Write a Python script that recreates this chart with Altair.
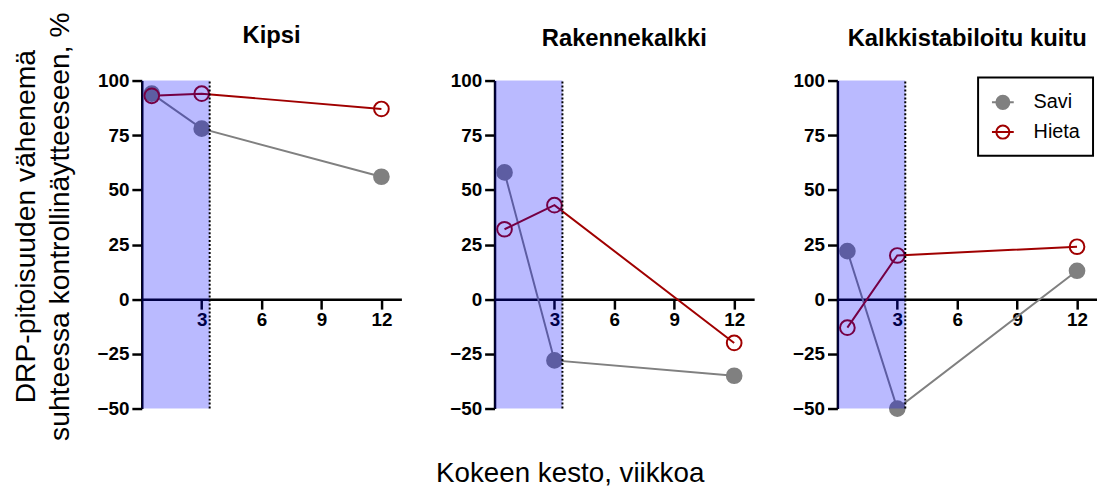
import altair as alt
import pandas as pd

FONT = "Liberation Sans"

# ---- data ----
weeks = [0.5, 3, 12]
panel_names = ["Kipsi", "Rakennekalkki", "Kalkkistabiloitu kuitu"]
savi_kipsi = [94, 78, 56]
hieta_kipsi = [93, 94, 87]
savi_rakenne = [58, -28, -35]
hieta_rakenne = [32, 43, -20]
savi_kuitu = [22, -50, 13]
hieta_kuitu = [-13, 20, 24]
series_names = ["Savi", "Hieta"]
series_stroke = ["#808080", "#a00000"]
series_fill = ["#808080", "transparent"]
shade_start, shade_end = 0, 3.4
x_domain = [0, 13]
y_domain = [-50, 100]
x_ticks = [3, 6, 9, 12]
y_ticks = [-50, -25, 0, 25, 50, 75, 100]
y_title = ["DRP-pitoisuuden vähenemä", "suhteessa kontrollinäytteeseen, %"]
x_title = "Kokeen kesto, viikkoa"

PW, H = 262, 331          # plotted width / height of each panel
x_axis_offset = -H * (0 - y_domain[0]) / (y_domain[1] - y_domain[0])

LEGEND_PATH = "M-1,0L1,0M-0.6,0A0.6,0.6,0,1,1,0.6,0A0.6,0.6,0,1,1,-0.6,0"

LEG = alt.Legend(title=None, orient="none", legendX=844, legendY=-3,
                 symbolType=LEGEND_PATH, symbolSize=484, symbolStrokeWidth=2,
                 labelFontSize=20, labelFont=FONT, labelColor="black",
                 strokeColor="black", fillColor="white", padding=13,
                 rowPadding=7, labelOffset=19)


def panel(name, savi, hieta, show_ytitle, extra_w, title_dx, title_offset):
    df = pd.DataFrame({
        "week": weeks * 2,
        "value": savi + hieta,
        "series": ["Savi"] * len(weeks) + ["Hieta"] * len(weeks),
    })
    shade = pd.DataFrame({"x0": [shade_start], "x1": [shade_end],
                          "y0": [y_domain[0]], "y1": [y_domain[1]]})
    xs = alt.Scale(domain=x_domain, nice=False, zero=False, range=[0, PW])
    ys = alt.Scale(domain=y_domain, nice=False, zero=False)
    xa = alt.Axis(values=x_ticks, offset=x_axis_offset, title=None, grid=False,
                  tickSize=10, tickWidth=2.5, domainWidth=2.5, domainColor="black",
                  tickColor="black", labelFontSize=19, labelFontWeight="bold",
                  labelFont=FONT, labelColor="black", labelPadding=2, labelFlush=False)
    yargs = dict(values=y_ticks, grid=False, tickSize=10, tickWidth=2.5,
                 domainWidth=2.5, domainColor="black", tickColor="black",
                 labelFontSize=19, labelFontWeight="bold", labelFont=FONT,
                 labelColor="black", labelPadding=3)
    if show_ytitle:
        ya = alt.Axis(title=y_title, titleFontSize=28.5, titleFont=FONT,
                      titleFontWeight="normal", titleColor="black",
                      titleX=-108, titleY=147, titleBaseline="alphabetic",
                      titleAngle=270, titleAlign="center", titleLineHeight=34,
                      **yargs)
    else:
        ya = alt.Axis(title=None, **yargs)

    line = alt.Chart(df).mark_line(strokeWidth=2).encode(
        x=alt.X("week:Q", scale=xs, axis=xa),
        y=alt.Y("value:Q", scale=ys, axis=ya),
        color=alt.Color("series:N", scale=alt.Scale(domain=series_names, range=series_stroke), legend=None),
    )
    pts = alt.Chart(df).mark_point(size=220, strokeWidth=2, opacity=1).encode(
        x=alt.X("week:Q", scale=xs, axis=xa),
        y=alt.Y("value:Q", scale=ys, axis=ya),
        stroke=alt.Stroke("series:N", scale=alt.Scale(domain=series_names, range=series_stroke), legend=LEG),
        fill=alt.Fill("series:N", scale=alt.Scale(domain=series_names, range=series_fill), legend=LEG),
    )
    rect = alt.Chart(shade).mark_rect(color="#0000ff", opacity=0.27).encode(
        x=alt.X("x0:Q", scale=xs, axis=xa),
        x2="x1:Q",
        y=alt.Y("y0:Q", scale=ys, axis=ya),
        y2="y1:Q",
    )
    rule = alt.Chart(shade).mark_rule(color="black", strokeWidth=2, strokeDash=[2, 2]).encode(
        x=alt.X("x1:Q", scale=xs, axis=xa),
        y=alt.Y("y0:Q", scale=ys, axis=ya),
        y2="y1:Q",
    )
    return alt.layer(line, pts, rect, rule).properties(
        width=PW + extra_w, height=H,
        title=alt.TitleParams(name, fontSize=24, fontWeight="bold", font=FONT,
                              color="black", offset=title_offset, frame="group", dx=title_dx,
                              baseline="alphabetic", anchor="middle"),
    )


p1 = panel(panel_names[0], savi_kipsi, hieta_kipsi, True, 10, -5, -55)
p2 = panel(panel_names[1], savi_rakenne, hieta_rakenne, False, 0, 0, 2)
p3 = panel(panel_names[2], savi_kuitu, hieta_kuitu, False, 0, 0, 2)

chart = alt.hconcat(p1, p2, p3, spacing=84, bounds="flush").resolve_scale(color="independent").properties(
    title=alt.TitleParams(x_title, orient="bottom", anchor="start", frame="group",
                          dx=297, offset=42, fontSize=28, font=FONT,
                          fontWeight="normal", color="black", baseline="alphabetic"),
    padding={"left": 4, "top": 1, "right": 0, "bottom": 0},
).configure_view(stroke=None).configure_legend(strokeWidth=2)

chart.save("out.html", embed_options={"renderer": "svg", "actions": False})
